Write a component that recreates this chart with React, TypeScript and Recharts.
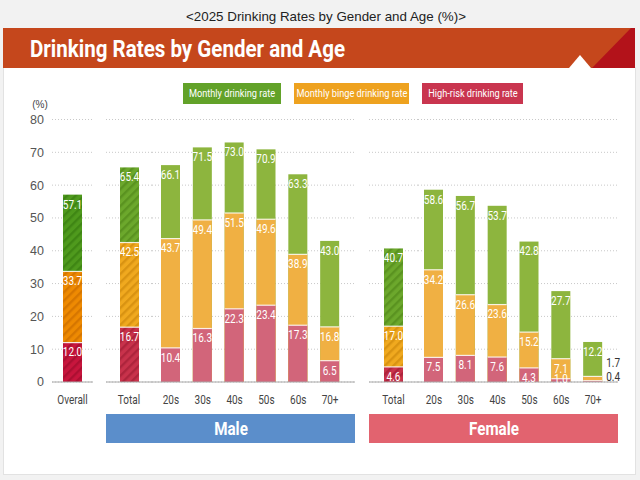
import React from 'react';
import { BarChart, Bar, XAxis, YAxis, CartesianGrid, LabelList } from 'recharts';

// ---------- data ----------
const overallCategories = ['Overall'];
const overallMonthly = [57.1];
const overallBinge = [33.7];
const overallHighRisk = [12.0];

const maleCategories = ['Total', '20s', '30s', '40s', '50s', '60s', '70+'];
const maleMonthly = [65.4, 66.1, 71.5, 73.0, 70.9, 63.3, 43.0];
const maleBinge = [42.5, 43.7, 49.4, 51.5, 49.6, 38.9, 16.8];
const maleHighRisk = [16.7, 10.4, 16.3, 22.3, 23.4, 17.3, 6.5];

const femaleCategories = ['Total', '20s', '30s', '40s', '50s', '60s', '70+'];
const femaleMonthly = [40.7, 58.6, 56.7, 53.7, 42.8, 27.7, 12.2];
const femaleBinge = [17.0, 34.2, 26.6, 23.6, 15.2, 7.1, 1.7];
const femaleHighRisk = [4.6, 7.5, 8.1, 7.6, 4.3, 1.0, 0.4];

const yTicks = [0, 10, 20, 30, 40, 50, 60, 70, 80];
const legendLabels = ['Monthly drinking rate', 'Monthly binge drinking rate', 'High-risk drinking rate'];
const groupLabels = ['Male', 'Female'];
const pageTitle = '<2025 Drinking Rates by Gender and Age (%)>';
const bannerTitle = 'Drinking Rates by Gender and Age';
const unitLabel = '(%)';

// ---------- styles ----------
const NARROW = "Roboto, 'Liberation Sans', sans-serif";
const SANS = "'Liberation Sans', Arial, sans-serif";
const SX = 0.8; // horizontal squeeze for condensed look

type Row = { cat: string; monthly: number; binge: number; highRisk: number };
const buildRows = (cats: string[], m: number[], b: number[], h: number[]): Row[] =>
  cats.map((cat, i) => ({ cat, monthly: m[i], binge: b[i], highRisk: h[i] }));

const overallRows = buildRows(overallCategories, overallMonthly, overallBinge, overallHighRisk);
const maleRows = buildRows(maleCategories, maleMonthly, maleBinge, maleHighRisk);
const femaleRows = buildRows(femaleCategories, femaleMonthly, femaleBinge, femaleHighRisk);

type Fills = { monthly: string; binge: string; highRisk: string };
const overallFills: Fills = { monthly: 'url(#hGreenO)', binge: 'url(#hOrangeO)', highRisk: 'url(#hRedO)' };
const totalFills: Fills = { monthly: 'url(#hGreenT)', binge: 'url(#hOrangeT)', highRisk: 'url(#hRedT)' };
const ageFills: Fills = { monthly: '#8DB53E', binge: '#F0B043', highRisk: '#D2657A' };

const TopLineShape = (withLine: boolean) => (props: any) => {
  const { x, y, width, height, fill } = props;
  if (!height || height <= 0) return <g />;
  return (
    <g>
      <rect x={x} y={y} width={width} height={height} fill={fill} />
      {withLine && <line x1={x} x2={x + width} y1={y} y2={y} stroke="#fff" strokeOpacity={0.85} strokeWidth={1.2} />}
    </g>
  );
};

const makeLabel = (series: 'monthly' | 'binge' | 'highRisk', outsideIndex: number) => (props: any) => {
  const x = Number(props.x), y = Number(props.y), width = Number(props.width), height = Number(props.height);
  const index = props.index;
  let cx = x + width / 2;
  let cy = y + 10;
  let color = '#fff';
  let anchor: 'middle' | 'start' = 'middle';
  if (index === outsideIndex && series !== 'monthly') {
    cx = x + width + 4;
    anchor = 'start';
    color = '#333';
    cy = series === 'binge' ? y - 13 : y - 4;
  } else if (height < 12) {
    cy = y + height - 3;
  }
  return (
    <text transform={`translate(${cx},${cy}) scale(${SX},1)`} textAnchor={anchor} dominantBaseline="central"
      fill={color} fontSize={12.5} fontFamily={NARROW}>
      {Number(props.value).toFixed(1)}
    </text>
  );
};

const CatTick = (props: any) => {
  const { x, y, payload } = props;
  return (
    <text transform={`translate(${x},${y}) scale(${SX},1)`} textAnchor="middle" dy="0.71em"
      fontSize={12.5} fill="#444" fontFamily={NARROW}>
      {payload.value}
    </text>
  );
};

const CHART_TOP = 100;
const CHART_H = 312;

type SubProps = {
  rows: Row[];
  left: number;
  width: number;
  fills: Fills;
  showY?: boolean;
  yWidth?: number;
  padL?: number;
  padR?: number;
  marginR?: number;
  outsideIndex?: number;
};

const SubChart = ({ rows, left, width, fills, showY = false, yWidth = 0, padL = 0, padR = 0, marginR = 0, outsideIndex = -1 }: SubProps) => (
  <div style={{ position: 'absolute', left, top: CHART_TOP }}>
    <BarChart
      width={width + marginR}
      height={CHART_H}
      data={rows}
      margin={{ top: 19.5, right: marginR, bottom: 0, left: 0 }}
      barGap={-19}
      barSize={19}
    >
      <CartesianGrid vertical={false} stroke="#c8c8c8" strokeDasharray="1 2" />
      <XAxis
        dataKey="cat"
        type="category"
        axisLine={{ stroke: '#a8a8a8' }}
        tickLine={false}
        tick={<CatTick />}
        tickMargin={7}
        height={30}
        interval={0}
        padding={{ left: padL, right: padR }}
      />
      <YAxis
        hide={!showY}
        width={yWidth}
        domain={[0, 80]}
        ticks={yTicks}
        axisLine={false}
        tickLine={false}
        tickMargin={2}
        tick={{ fontSize: 12.5, fill: '#555', fontFamily: SANS }}
      />
      <Bar dataKey="monthly" fill={fills.monthly} isAnimationActive={false} shape={TopLineShape(false)}>
        <LabelList dataKey="monthly" content={makeLabel('monthly', outsideIndex)} />
      </Bar>
      <Bar dataKey="binge" fill={fills.binge} isAnimationActive={false} shape={TopLineShape(true)}>
        <LabelList dataKey="binge" content={makeLabel('binge', outsideIndex)} />
      </Bar>
      <Bar dataKey="highRisk" fill={fills.highRisk} isAnimationActive={false} shape={TopLineShape(true)}>
        <LabelList dataKey="highRisk" content={makeLabel('highRisk', outsideIndex)} />
      </Bar>
    </BarChart>
  </div>
);

const Hatch = ({ id, base, stripe }: { id: string; base: string; stripe: string }) => (
  <pattern id={id} width="6" height="6" patternUnits="userSpaceOnUse" patternTransform="rotate(45)">
    <rect width="6" height="6" fill={base} />
    <rect width="2.4" height="6" fill={stripe} />
  </pattern>
);

const legendColors = ['#62A229', '#EEA21F', '#C9354F'];
const legendBoxes = [
  { left: 183, width: 98 },
  { left: 294, width: 115 },
  { left: 422, width: 101 },
];

const Squeezed = ({ children }: { children: React.ReactNode }) => (
  <span style={{
    position: 'absolute', left: '50%', top: 0, whiteSpace: 'nowrap',
    transform: `translateX(-50%) scaleX(${SX})`,
  }}>{children}</span>
);

const groupBoxStyle = (left: number, bg: string): React.CSSProperties => ({
  position: 'absolute', left, top: 414, width: 249, height: 29, background: bg, color: '#fff',
  fontFamily: NARROW, fontWeight: 'bold', fontSize: 19, lineHeight: '29px',
});

export default function App() {
  return (
    <div style={{ position: 'absolute', left: 0, top: 0, width: 640, height: 480, background: '#f2f2f2', overflow: 'hidden' }}>
      <svg width={0} height={0} style={{ position: 'absolute' }}>
        <defs>
          <Hatch id="hGreenO" base="#4F9A1D" stripe="#3F8614" />
          <Hatch id="hOrangeO" base="#EE8A02" stripe="#D67600" />
          <Hatch id="hRedO" base="#C8153D" stripe="#AC0F32" />
          <Hatch id="hGreenT" base="#6CA82C" stripe="#5A9320" />
          <Hatch id="hOrangeT" base="#F0A91F" stripe="#D99312" />
          <Hatch id="hRedT" base="#C8324B" stripe="#AE243C" />
        </defs>
      </svg>

      {/* white panel */}
      <div style={{ position: 'absolute', left: 3, top: 67, width: 631, height: 406, background: '#fff', border: '1px solid #e2e2e2' }} />

      {/* header */}
      <svg width={640} height={120} style={{ position: 'absolute', left: 0, top: 0 }}>
        <text x={326} y={16} textAnchor="middle" dominantBaseline="central" fontSize={13} fill="#222" fontFamily={SANS}
          textLength={280} lengthAdjust="spacingAndGlyphs">
          {pageTitle}
        </text>
        <rect x={3} y={28} width={632} height={40} fill="#C5471C" />
        <polygon points="631,28 635,28 635,68 592,68" fill="#B3121A" />
        <polygon points="580,55 569,68 591,68" fill="#fff" />
        <text x={30} y={57} fontSize={23} fontWeight="bold" fill="#fff" fontFamily={NARROW}
          textLength={315} lengthAdjust="spacingAndGlyphs">
          {bannerTitle}
        </text>
        <text x={40} y={104} textAnchor="middle" dominantBaseline="central" fontSize={10} fill="#444" fontFamily={SANS}>
          {unitLabel}
        </text>
      </svg>

      {/* legend */}
      {legendLabels.map((l, i) => (
        <div key={l} style={{
          position: 'absolute', left: legendBoxes[i].left, top: 83, width: legendBoxes[i].width, height: 21,
          background: legendColors[i], color: '#fff', fontFamily: NARROW, fontSize: 11.5, lineHeight: '21px',
        }}><Squeezed>{l}</Squeezed></div>
      ))}

      {/* charts */}
      <SubChart rows={overallRows} left={0} width={93} fills={overallFills} showY yWidth={52} />
      <SubChart rows={maleRows.slice(0, 1)} left={106} width={46} fills={totalFills} />
      <SubChart rows={maleRows.slice(1)} left={152} width={203} fills={ageFills} padL={3} padR={9} />
      <SubChart rows={femaleRows.slice(0, 1)} left={369} width={49} fills={totalFills} />
      <SubChart rows={femaleRows.slice(1)} left={418} width={200} fills={ageFills} padL={0} padR={9} marginR={20} outsideIndex={5} />

      {/* group boxes */}
      <div style={groupBoxStyle(106, '#5B8ECB')}><Squeezed>{groupLabels[0]}</Squeezed></div>
      <div style={groupBoxStyle(369, '#E2636F')}><Squeezed>{groupLabels[1]}</Squeezed></div>
    </div>
  );
}
